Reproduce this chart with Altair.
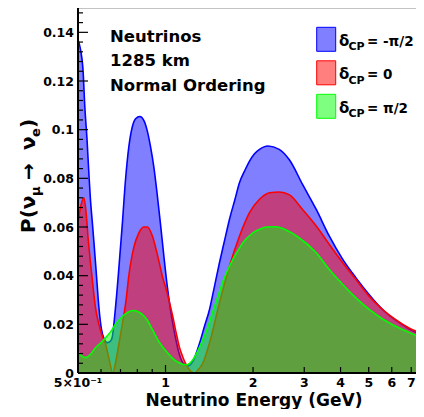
import altair as alt
import pandas as pd

# ---------------- data ----------------
E_blue = [0.500, 0.510, 0.520, 0.528, 0.537, 0.545, 0.552, 0.560, 0.567, 0.578,
          0.590, 0.602, 0.615, 0.630, 0.645, 0.655, 0.673, 0.691, 0.710, 0.728,
          0.748, 0.768, 0.789, 0.816, 0.842, 0.865, 0.888, 0.912, 0.936, 0.961,
          0.987, 1.013, 1.040, 1.074, 1.117, 1.160, 1.200, 1.250, 1.310, 1.360,
          1.417, 1.470, 1.533, 1.600, 1.659, 1.730, 1.796, 1.870, 1.945, 2.020,
          2.105, 2.250, 2.460, 2.670, 2.960, 3.300, 3.660, 4.070, 4.520, 5.020,
          5.580, 6.190, 6.880, 7.650]
P_blue = [0.137, 0.133, 0.125, 0.109, 0.096, 0.082, 0.071, 0.062, 0.054, 0.041,
          0.027, 0.018, 0.014, 0.0125, 0.013, 0.0145, 0.027, 0.043, 0.061, 0.079,
          0.093, 0.101, 0.1045, 0.1054, 0.1038, 0.0996, 0.093, 0.0845, 0.0735, 0.0612,
          0.048, 0.036, 0.026, 0.0165, 0.0075, 0.0036, 0.0030, 0.0055, 0.0123, 0.019,
          0.0261, 0.035, 0.0453, 0.055, 0.0631, 0.071, 0.0782, 0.083, 0.0871, 0.090,
          0.0919, 0.0933, 0.0919, 0.0875, 0.0775, 0.0672, 0.0562, 0.0467, 0.0391, 0.0322,
          0.0261, 0.0217, 0.0182, 0.0154]

E_red = [0.500, 0.512, 0.524, 0.533, 0.542, 0.550, 0.557, 0.566, 0.574, 0.590,
         0.605, 0.622, 0.638, 0.659, 0.673, 0.691, 0.710, 0.730, 0.748, 0.778,
         0.809, 0.842, 0.865, 0.900, 0.936, 0.979, 1.013, 1.032, 1.060, 1.088,
         1.117, 1.147, 1.178, 1.220, 1.258, 1.300, 1.344, 1.417, 1.533, 1.659,
         1.796, 1.945, 2.105, 2.280, 2.460, 2.670, 2.960, 3.300, 3.660, 4.070,
         4.520, 5.020, 5.580, 6.190, 6.880, 7.650]
P_red = [0.062, 0.069, 0.072, 0.066, 0.055, 0.047, 0.041, 0.033, 0.027, 0.020,
         0.0155, 0.0118, 0.0063, 0.0, 0.0042, 0.0118, 0.020, 0.029, 0.040, 0.0516,
         0.0575, 0.0600, 0.0600, 0.0565, 0.049, 0.039, 0.033, 0.029, 0.023, 0.0165,
         0.0105, 0.0065, 0.0034, 0.0008, 0.0, 0.0015, 0.0041, 0.0124, 0.0288, 0.0439,
         0.0562, 0.0659, 0.0714, 0.0741, 0.0744, 0.0732, 0.0672, 0.0604, 0.0528, 0.0453,
         0.0384, 0.0315, 0.0261, 0.0219, 0.0185, 0.0162]

E_green = [0.500, 0.515, 0.531, 0.550, 0.574, 0.600, 0.622, 0.650, 0.673, 0.700,
           0.728, 0.755, 0.778, 0.805, 0.832, 0.865, 0.900, 0.937, 0.974, 1.013,
           1.054, 1.100, 1.140, 1.178, 1.210, 1.242, 1.290, 1.344, 1.400, 1.455,
           1.515, 1.575, 1.640, 1.705, 1.775, 1.845, 1.920, 1.997, 2.100, 2.220,
           2.400, 2.600, 2.850, 3.300, 3.660, 4.070, 4.520, 5.020, 5.580, 6.190,
           6.880, 7.650]
P_green = [0.0090, 0.0070, 0.0063, 0.0075, 0.0104, 0.0125, 0.0145, 0.0172, 0.0200, 0.0225,
           0.0243, 0.0254, 0.0257, 0.0252, 0.0241, 0.0218, 0.0180, 0.0140, 0.0110, 0.0085,
           0.0062, 0.0045, 0.0037, 0.0034, 0.0040, 0.0055, 0.0090, 0.0137, 0.0190, 0.0254,
           0.0315, 0.0377, 0.0425, 0.0467, 0.0503, 0.0535, 0.0558, 0.0576, 0.0590, 0.0600,
           0.0601, 0.0588, 0.0560, 0.0494, 0.0425, 0.0364, 0.0309, 0.0261, 0.0222, 0.0192,
           0.0167, 0.0144]

series_names = ["= -π/2", "= 0", "= π/2"]
series_colors = ["#0000ff", "#ff0000", "#00ff00"]

y_major = [0.0, 0.02, 0.04, 0.06, 0.08, 0.10, 0.12, 0.14]
y_major_labels = ["0", "0.02", "0.04", "0.06", "0.08", "0.1", "0.12", "0.14"]
y_minor = [v / 1000 for v in range(4, 150, 4) if v % 20 != 0]
x_label_values = [0.5, 1, 2, 3, 4, 5, 6, 7]
x_labels = ["5×10⁻¹", "1", "2", "3", "4", "5", "6", "7"]
x_minor = [0.6, 0.7, 0.8, 0.9]
x_mid = [2, 3, 4, 5, 6, 7]
x_major = [1]
info_lines = ["Neutrinos", "1285 km", "Normal Ordering"]

# ---------------- layout ----------------
W, H = 338, 365
FONT = "DejaVu Sans"
xs = alt.Scale(type="log", domain=[0.5, 7.27], nice=False)
ys = alt.Scale(domain=[0, 0.15], nice=False, zero=False)
one = pd.DataFrame({"a": [0]})

layers = []
for E, P, col in [(E_blue, P_blue, series_colors[0]),
                  (E_red, P_red, series_colors[1]),
                  (E_green, P_green, series_colors[2])]:
    d = pd.DataFrame({"E": E, "P": P})
    enc = dict(x=alt.X("E:Q", scale=xs, axis=None), y=alt.Y("P:Q", scale=ys, axis=None))
    layers.append(alt.Chart(d).mark_area(fill=col, fillOpacity=0.5, interpolate="monotone",
                                         clip=True).encode(**enc))
    layers.append(alt.Chart(d).mark_line(color=col, strokeWidth=1.6, interpolate="monotone",
                                         clip=True).encode(**enc))

# frame: thin top line, thick left/bottom axes
layers.append(alt.Chart(one).mark_rule(color="#888", strokeWidth=1).encode(
    x=alt.value(0), x2=alt.value(W), y=alt.value(0)))
layers.append(alt.Chart(one).mark_rule(color="black", strokeWidth=2).encode(
    x=alt.value(0), y=alt.value(0), y2=alt.value(H)))
layers.append(alt.Chart(one).mark_rule(color="black", strokeWidth=2).encode(
    x=alt.value(0), x2=alt.value(W), y=alt.value(H)))

# y ticks (inside)
layers.append(alt.Chart(pd.DataFrame({"v": y_major})).mark_rule(color="black", strokeWidth=1.2).encode(
    y=alt.Y("v:Q", scale=ys, axis=None), x=alt.value(0), x2=alt.value(10)))
layers.append(alt.Chart(pd.DataFrame({"v": y_minor})).mark_rule(color="black", strokeWidth=1.2).encode(
    y=alt.Y("v:Q", scale=ys, axis=None), x=alt.value(0), x2=alt.value(5)))
# x ticks (inside)
for vals, ln in [(x_minor, 4), (x_mid, 6), (x_major, 8)]:
    layers.append(alt.Chart(pd.DataFrame({"v": vals})).mark_rule(color="black", strokeWidth=1.2).encode(
        x=alt.X("v:Q", scale=xs, axis=None), y=alt.value(H), y2=alt.value(H - ln)))

# tick labels
layers.append(alt.Chart(pd.DataFrame({"v": y_major, "t": y_major_labels})).mark_text(
    font=FONT, fontWeight="bold", fontSize=12.5, align="right", baseline="alphabetic", dy=4.5,
    color="black").encode(y=alt.Y("v:Q", scale=ys, axis=None), x=alt.value(-4), text="t:N"))
layers.append(alt.Chart(pd.DataFrame({"v": x_label_values, "t": x_labels})).mark_text(
    font=FONT, fontWeight="bold", fontSize=12.5, align="center", baseline="alphabetic",
    color="black").encode(x=alt.X("v:Q", scale=xs, axis=None), y=alt.value(H + 14), text="t:N"))

# x title
layers.append(alt.Chart(one).mark_text(
    text="Neutrino Energy (GeV)", font=FONT, fontWeight="bold", fontSize=17, align="center",
    baseline="alphabetic", color="black").encode(x=alt.value(176), y=alt.value(H + 33)))

# y title pieces: P(ν_μ → ν_e)
ypieces = [("P(ν", 20, -43, 225), ("μ", 13, -38, 188), ("→", 20, -43, 172),
           ("ν", 20, -43, 142), ("e", 13, -38, 129), (")", 20, -43, 120)]
for txt, fs, xx, yy in ypieces:
    layers.append(alt.Chart(one).mark_text(
        text=txt, font=FONT, fontWeight="bold", fontSize=fs, angle=270, align="left",
        baseline="alphabetic", color="black").encode(x=alt.value(xx), y=alt.value(yy)))

# info text
for i, t in enumerate(info_lines):
    layers.append(alt.Chart(one).mark_text(
        text=t, font=FONT, fontWeight="bold", fontSize=16.5, align="left", baseline="alphabetic",
        color="black").encode(x=alt.value(32), y=alt.value(33.7 + 24.5 * i)))

# legend
for i, (name, col) in enumerate(zip(series_names, series_colors)):
    y0 = 19.3 + 33.5 * i
    layers.append(alt.Chart(one).mark_rect(fill=col, fillOpacity=0.5, stroke=col, strokeWidth=1).encode(
        x=alt.value(238.7), x2=alt.value(257.7), y=alt.value(y0), y2=alt.value(y0 + 24)))
    layers.append(alt.Chart(one).mark_text(
        text="δ", font=FONT, fontWeight="bold", fontSize=15, align="left", baseline="alphabetic",
        color="black").encode(x=alt.value(261), y=alt.value(y0 + 18.4)))
    layers.append(alt.Chart(one).mark_text(
        text="CP", font=FONT, fontWeight="bold", fontSize=11, align="left", baseline="alphabetic",
        color="black").encode(x=alt.value(270.5), y=alt.value(y0 + 23)))
    layers.append(alt.Chart(one).mark_text(
        text=name, font=FONT, fontWeight="bold", fontSize=13.5, align="left", baseline="alphabetic",
        color="black").encode(x=alt.value(289), y=alt.value(y0 + 18.4)))

chart = alt.layer(*layers).properties(
    width=W, height=H,
    autosize=alt.AutoSizeParams(type="none"),
    padding={"left": 70, "top": 0, "right": 0, "bottom": 36},
    background="white",
).configure_view(stroke=None)

chart.save("out.html", embed_options={"renderer": "svg", "actions": False})
